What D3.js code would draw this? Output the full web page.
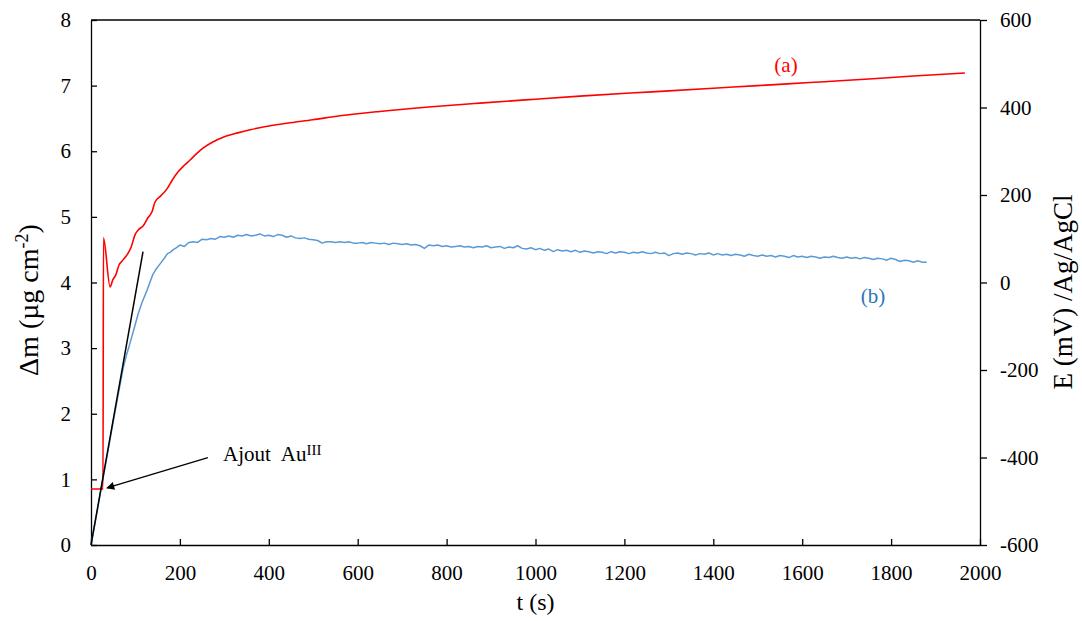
<!DOCTYPE html>
<html><head><meta charset="utf-8">
<script src="https://cdn.jsdelivr.net/npm/d3@7"></script>
<style>body{margin:0;background:#fff}svg{display:block}text{font-family:"Liberation Serif","Times New Roman",serif}</style>
</head><body>
<script>
// ---- data ----
const xTicks = [0,200,400,600,800,1000,1200,1400,1600,1800,2000];
const leftTicks = [0,1,2,3,4,5,6,7,8];
const rightTicks = [-600,-400,-200,0,200,400,600];

// (a) potential E (mV vs Ag/AgCl), right axis
const aTime = [0,27,28,43,49,56,63,70,81,90,99,108,117,128,137,144,157,171,184,196,210,223,237,252,274,300,330,358,390,441,499,560,650,760,875,1000,1100,1213,1300,1400,1500,1566,1650,1750,1850,1966];
const aE    = [-472,-472,102,-10,6,18,40,49,63,80,109,122,129,148,161,184,198,214,236,253,268,280,294,307,321,333,342,349,356,364,372,381,391,401,410,419,426,433,438,444,450,454,459,465,472,479];

// (b) mass change Δm (µg cm-2), left axis
const bTime = [0,10,20,30,40,50,60,72,80,88,97,106,115,126,133,139,147,155,165,172,178,185,190,
 200,210,220,230,240,250,260,270,280,290,300,310,320,330,340,350,360,370,380,390,400,410,420,430,440,450,460,470,480,490,
 500,510,520,530,540,550,560,570,580,590,600,610,620,630,640,650,660,670,680,690,700,710,720,730,740,750,760,770,780,790,
 800,810,820,830,840,850,860,870,880,890,900,910,920,930,940,950,960,970,980,990,1000,1010,1020,1030,1040,1050,1060,1070,1080,1090,
 1100,1110,1120,1130,1140,1150,1160,1170,1180,1190,1200,1210,1220,1230,1240,1250,1260,1270,1280,1290,1300,1310,1320,1330,1340,1350,1360,1370,1380,1390,
 1400,1410,1420,1430,1440,1450,1460,1470,1480,1490,1500,1510,1520,1530,1540,1550,1560,1570,1580,1590,1600,1610,1620,1630,1640,1650,1660,1670,1680,1690,
 1700,1710,1720,1730,1740,1750,1760,1770,1780,1790,1800,1810,1820,1830,1840,1850,1860,1870,1880];
const bMass = [0,0.37,0.75,1.13,1.5,1.88,2.25,2.68,2.9,3.08,3.30,3.52,3.70,3.88,4.01,4.12,4.21,4.28,4.37,4.44,4.46,4.50,4.52,
 4.57,4.55,4.61,4.62,4.61,4.66,4.65,4.67,4.66,4.70,4.69,4.71,4.69,4.72,4.71,4.73,4.71,4.72,4.74,4.71,4.72,4.70,4.73,4.72,4.69,4.71,4.68,4.67,4.68,4.66,
 4.65,4.64,4.60,4.62,4.62,4.61,4.62,4.61,4.62,4.60,4.60,4.61,4.59,4.61,4.60,4.59,4.60,4.58,4.60,4.59,4.58,4.59,4.57,4.58,4.56,4.52,4.57,4.56,4.57,4.55,
 4.56,4.54,4.55,4.56,4.54,4.55,4.53,4.55,4.54,4.56,4.53,4.54,4.55,4.52,4.54,4.53,4.56,4.52,4.51,4.53,4.50,4.52,4.49,4.51,4.47,4.50,4.48,4.49,4.47,4.49,
 4.46,4.48,4.47,4.45,4.47,4.46,4.44,4.47,4.45,4.47,4.46,4.44,4.46,4.45,4.47,4.45,4.44,4.46,4.44,4.45,4.41,4.44,4.45,4.43,4.45,4.44,4.42,4.44,4.43,4.45,
 4.42,4.44,4.42,4.43,4.41,4.43,4.42,4.40,4.43,4.41,4.40,4.42,4.40,4.41,4.39,4.41,4.40,4.38,4.41,4.39,4.40,4.38,4.40,4.39,4.37,4.39,4.38,4.40,4.38,4.37,
 4.39,4.37,4.38,4.36,4.38,4.37,4.35,4.37,4.36,4.34,4.37,4.35,4.32,4.34,4.33,4.31,4.33,4.31,4.31];

// tangent line (initial slope of Δm)
const tangentTime = [0,117];
const tangentMass = [0,4.47];

// arrow annotation: from text to the injection point
const arrowTime = [263,36];
const arrowMass = [1.33,0.87];

// ---- chart ----
const W=1082,H=621;
const FONT='"Liberation Serif","Times New Roman",serif';
const svg=d3.select("body").append("svg").attr("width",W).attr("height",H);
const x=d3.scaleLinear().domain([0,2000]).range([91,980]);
const yL=d3.scaleLinear().domain([0,8]).range([545,20]);
const yR=d3.scaleLinear().domain([-600,600]).range([545,20]);

const tickFont=21;

// top border
svg.append("line").attr("x1",x(0)).attr("x2",x(2000)).attr("y1",yL(8)).attr("y2",yL(8)).attr("stroke","#000").attr("stroke-width",1.3);

const fmt=d=>String(d);
const gx=svg.append("g").attr("transform",`translate(0,${yL(0)})`)
  .call(d3.axisBottom(x).tickValues(xTicks).tickFormat(fmt).tickSizeInner(-6).tickSizeOuter(0).tickPadding(20));
const gl=svg.append("g").attr("transform",`translate(${x(0)},0)`)
  .call(d3.axisLeft(yL).tickValues(leftTicks).tickFormat(fmt).tickSizeInner(-6).tickSizeOuter(0).tickPadding(20));
const gr=svg.append("g").attr("transform",`translate(${x(2000)},0)`)
  .call(d3.axisRight(yR).tickValues(rightTicks).tickFormat(fmt).tickSizeInner(7).tickSizeOuter(0).tickPadding(13));
[gx,gl,gr].forEach(g=>{
  g.attr("font-family",FONT).attr("font-size",tickFont);
  g.selectAll("path.domain").attr("stroke","#000").attr("stroke-width",1.3);
  g.selectAll(".tick line").attr("stroke","#000").attr("stroke-width",1.3);
  g.selectAll("text").attr("fill","#000").style("font-family",FONT).style("font-size",tickFont+"px");
});

// series (b)
const lineB=d3.line().x(i=>x(bTime[i])).y(i=>yL(bMass[i]));
svg.append("path").attr("d",lineB(d3.range(bTime.length))).attr("fill","none").attr("stroke","#5b9bd5").attr("stroke-width",1.5).attr("stroke-linejoin","round");

// series (a)
const lineA=d3.line().x(i=>x(aTime[i])).y(i=>yR(aE[i])).curve(d3.curveMonotoneX);
svg.append("path").attr("d",lineA(d3.range(aTime.length))).attr("fill","none").attr("stroke","#ff0000").attr("stroke-width",1.6).attr("stroke-linejoin","round");

// tangent
const lineT=d3.line().x(i=>x(tangentTime[i])).y(i=>yL(tangentMass[i]));
svg.append("path").attr("d",lineT([0,1])).attr("fill","none").attr("stroke","#000").attr("stroke-width",1.5);

// arrow
svg.append("defs").append("marker").attr("id","ah").attr("viewBox","0 0 10 10").attr("refX",9).attr("refY",5)
  .attr("markerWidth",10).attr("markerHeight",8).attr("orient","auto").attr("markerUnits","userSpaceOnUse")
  .append("path").attr("d","M0,0L10,5L0,10Z").attr("fill","#000");
svg.append("line").attr("x1",x(arrowTime[0])).attr("y1",yL(arrowMass[0])).attr("x2",x(arrowTime[1])).attr("y2",yL(arrowMass[1]))
  .attr("stroke","#000").attr("stroke-width",1.3).attr("marker-end","url(#ah)");

// annotation text
const ann=svg.append("text").attr("x",223).attr("y",461).style("font-size","21px").style("font-family",FONT).attr("fill","#000");
ann.append("tspan").text("Ajout");
ann.append("tspan").attr("dx",10).text("Au");
ann.append("tspan").attr("dy",-6).style("font-size","15px").text("III");

svg.append("text").attr("x",786).attr("y",72).attr("text-anchor","middle").style("font-size","21px").style("font-family",FONT).attr("fill","#ff0000").text("(a)");
svg.append("text").attr("x",873).attr("y",303).attr("text-anchor","middle").style("font-size","21px").style("font-family",FONT).attr("fill","#2e75b6").text("(b)");

// axis titles
svg.append("text").attr("x",535.5).attr("y",610).attr("text-anchor","middle").style("font-size","24px").style("font-family",FONT).text("t (s)");
const lt=svg.append("text").attr("transform","translate(38,300) rotate(-90)").attr("text-anchor","middle").style("font-size","28px").style("font-family",FONT);
lt.append("tspan").text("Δm (µg cm");
lt.append("tspan").attr("dy",-10).style("font-size","18px").text("-2");
lt.append("tspan").attr("dy",10).text(")");
svg.append("text").attr("transform","translate(1072,292) rotate(-90)").attr("text-anchor","middle").style("font-size","27px").style("font-family",FONT).text("E (mV) /Ag/AgCl");
</script>
</body></html>
